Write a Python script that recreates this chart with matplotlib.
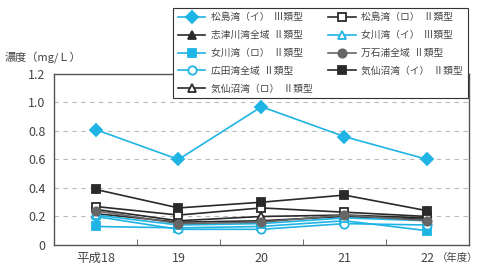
import matplotlib
matplotlib.use('Agg')
import matplotlib.pyplot as plt

plt.rcParams['font.family'] = ['Noto Sans CJK JP', 'DejaVu Sans']

years = ['平成18', '19', '20', '21', '22']

matsushima_i = [0.81, 0.60, 0.97, 0.76, 0.60]
matsushima_ro = [0.27, 0.21, 0.26, 0.23, 0.20]
shizugawa = [0.22, 0.16, 0.17, 0.20, 0.18]
onagawa_i = [0.21, 0.14, 0.15, 0.19, 0.17]
onagawa_ro = [0.13, 0.12, 0.13, 0.17, 0.10]
mangoku = [0.24, 0.15, 0.16, 0.21, 0.17]
hirota = [0.20, 0.11, 0.11, 0.15, 0.14]
kesennuma_i = [0.39, 0.26, 0.30, 0.35, 0.24]
kesennuma_ro = [0.25, 0.17, 0.20, 0.21, 0.19]

cyan = '#1fb4e4'
dark = '#2a2a2a'
grey = '#666666'

fig = plt.figure(figsize=(4.78, 2.64), dpi=100)
ax = fig.add_axes([0.113, 0.072, 0.868, 0.648])

x = list(range(len(years)))
ms = 6
series = [
    (matsushima_i, cyan, 'D', cyan, '松島湾（イ）  Ⅲ類型'),
    (shizugawa, dark, '^', dark, '志津川湾全域  Ⅱ類型'),
    (onagawa_ro, cyan, 's', cyan, '女川湾（ロ）  Ⅱ類型'),
    (hirota, cyan, 'o', 'white', '広田湾全域  Ⅱ類型'),
    (kesennuma_ro, dark, '^', 'white', '気仙沼湾（ロ）  Ⅱ類型'),
    (matsushima_ro, dark, 's', 'white', '松島湾（ロ）  Ⅱ類型'),
    (onagawa_i, cyan, '^', 'white', '女川湾（イ）  Ⅲ類型'),
    (mangoku, grey, 'o', grey, '万石浦全域  Ⅱ類型'),
    (kesennuma_i, dark, 's', dark, '気仙沼湾（イ）  Ⅱ類型'),
]

for vals, col, mk, fc, lab in series:
    ax.plot(x, vals, color=col, marker=mk, markerfacecolor=fc,
            markeredgecolor=col, markersize=ms, markeredgewidth=1.3,
            linewidth=1.2, label=lab)

ax.set_xlim(-0.5, 4.5)
ax.set_ylim(0, 1.2)
ax.set_yticks([0, 0.2, 0.4, 0.6, 0.8, 1.0, 1.2])
ax.set_yticklabels(['0', '0.2', '0.4', '0.6', '0.8', '1.0', '1.2'])
ax.set_xticks(x)
ax.set_xticklabels(years)
ax.set_xticks([0.5, 1.5, 2.5, 3.5], minor=True)
ax.tick_params(axis='x', which='major', length=0, pad=5, labelsize=9, colors='#444444')
ax.tick_params(axis='x', which='minor', length=4, direction='in', color='#555555')
ax.tick_params(axis='y', length=0, pad=6, labelsize=9, colors='#444444')
for y in [0.2, 0.4, 0.6, 0.8, 1.0]:
    ax.axhline(y, color='#bbbbbb', linestyle=(0, (4, 4)), linewidth=0.8, zorder=0)
for s in ax.spines.values():
    s.set_color('#555555')
    s.set_linewidth(1.0)

fig.text(0.01, 0.78, '濃度（mg/Ｌ）', fontsize=8, color='#444444', va='center')
fig.text(0.913, 0.022, '（年度）', fontsize=7.5, color='#444444', va='center')

leg = fig.legend(loc='upper left', bbox_to_anchor=(0.352, 0.99), ncol=2,
                 fontsize=7, frameon=True, fancybox=False, framealpha=1,
                 edgecolor='#333333', handlelength=2.8, labelspacing=0.8,
                 columnspacing=1.6, handletextpad=0.6, borderpad=0.5)
leg.get_frame().set_linewidth(0.8)
for t in leg.get_texts():
    t.set_color('#444444')

fig.savefig('out.png', dpi=100)
